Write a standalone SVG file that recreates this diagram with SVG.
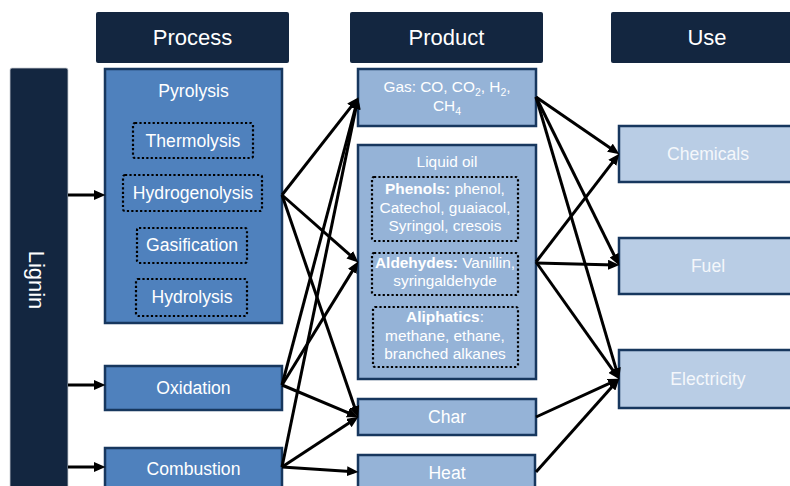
<svg xmlns="http://www.w3.org/2000/svg" width="790" height="486" viewBox="0 0 790 486">
  <style>
    .hdr { fill: #132640; }
    .hdr-t { font-family: "Liberation Sans", Arial, sans-serif; font-size: 22px; fill: #ffffff; text-anchor: middle; }
    .proc { fill: #4f81bd; stroke: #17375e; stroke-width: 2.5; }
    .prod { fill: #95b3d7; stroke: #17375e; stroke-width: 2.5; }
    .use { fill: #b9cde5; stroke: #17375e; stroke-width: 2.5; }
    .dot { fill: none; stroke: #000000; stroke-width: 2.2; stroke-dasharray: 2.2 2.2; }
    .t18 { font-family: "Liberation Sans", Arial, sans-serif; font-size: 17.6px; fill: #ffffff; text-anchor: middle; }
    .t15 { font-family: "Liberation Sans", Arial, sans-serif; font-size: 15.4px; fill: #ffffff; text-anchor: middle; }
    .use-t { font-family: "Liberation Sans", Arial, sans-serif; font-size: 17.6px; fill: #f4f7fb; text-anchor: middle; }
    .b { font-weight: bold; }
    .conn line { stroke: #000000; stroke-width: 3; marker-end: url(#arrow); }
  </style>
  <defs>
    <marker id="arrow" markerUnits="userSpaceOnUse" markerWidth="12" markerHeight="10" refX="7" refY="5" orient="auto">
      <path d="M0,0 L11.5,5 L0,10 z" fill="#000000"/>
    </marker>
  </defs>

  <!-- column headers -->
  <g id="hdr-process">
    <rect class="hdr" x="96" y="12" width="193" height="51" rx="2"/>
    <text class="hdr-t" x="192.5" y="45">Process</text>
  </g>
  <g id="hdr-product">
    <rect class="hdr" x="350" y="12" width="193" height="51" rx="2"/>
    <text class="hdr-t" x="446.5" y="45">Product</text>
  </g>
  <g id="hdr-use">
    <rect class="hdr" x="611" y="12" width="192" height="51" rx="2"/>
    <text class="hdr-t" x="707" y="45">Use</text>
  </g>

  <!-- feedstock bar -->
  <g id="lignin">
    <rect x="10" y="68" width="58" height="430" rx="2" fill="#132640" stroke="#c8ccd2" stroke-width="0.8"/>
    <text class="hdr-t" transform="translate(29,280) rotate(90)">Lignin</text>
  </g>

  <!-- process column -->
  <g id="pyrolysis">
    <rect class="proc" x="105" y="69" width="177" height="254"/>
    <text class="t18" x="193.5" y="97">Pyrolysis</text>
  </g>
  <g id="thermolysis">
    <rect class="dot" x="133" y="123" width="120" height="35" rx="2"/>
    <text class="t18" x="193" y="147">Thermolysis</text>
  </g>
  <g id="hydrogenolysis">
    <rect class="dot" x="123" y="175" width="139" height="36" rx="2"/>
    <text class="t18" x="193" y="199">Hydrogenolysis</text>
  </g>
  <g id="gasification">
    <rect class="dot" x="137" y="228" width="110" height="35" rx="2"/>
    <text class="t18" x="192" y="251">Gasification</text>
  </g>
  <g id="hydrolysis">
    <rect class="dot" x="136" y="279" width="111" height="37" rx="2"/>
    <text class="t18" x="192" y="303">Hydrolysis</text>
  </g>
  <g id="oxidation">
    <rect class="proc" x="105" y="366" width="177" height="44"/>
    <text class="t18" x="193.5" y="394">Oxidation</text>
  </g>
  <g id="combustion">
    <rect class="proc" x="105" y="448" width="177" height="50"/>
    <text class="t18" x="193.5" y="475">Combustion</text>
  </g>

  <!-- product column -->
  <g id="gas">
    <rect class="prod" x="358" y="69" width="178" height="57"/>
    <text class="t15" x="447" y="92">Gas: CO, CO<tspan font-size="10.5" dy="4">2</tspan><tspan dy="-4">, H</tspan><tspan font-size="10.5" dy="4">2</tspan><tspan dy="-4">,</tspan></text>
    <text class="t15" x="447" y="111">CH<tspan font-size="10.5" dy="4">4</tspan></text>
  </g>
  <g id="liquid-oil">
    <rect class="prod" x="358" y="145" width="178" height="234"/>
    <text class="t15" x="447" y="167">Liquid oil</text>
  </g>
  <g id="phenols">
    <rect class="dot" x="372" y="177" width="146" height="64" rx="2"/>
    <text class="t15" x="445" y="194"><tspan class="b">Phenols:</tspan> phenol,</text>
    <text class="t15" x="445" y="212.5">Catechol, guaiacol,</text>
    <text class="t15" x="445" y="231">Syringol, cresois</text>
  </g>
  <g id="aldehydes">
    <rect class="dot" x="372" y="253" width="146" height="42" rx="2"/>
    <text class="t15" x="445" y="267.5"><tspan class="b">Aldehydes:</tspan> Vanillin,</text>
    <text class="t15" x="445" y="285.5">syringaldehyde</text>
  </g>
  <g id="aliphatics">
    <rect class="dot" x="373" y="307" width="145" height="60" rx="2"/>
    <text class="t15" x="445" y="322"><tspan class="b">Aliphatics</tspan>:</text>
    <text class="t15" x="445" y="341">methane,  ethane,</text>
    <text class="t15" x="445" y="359">branched alkanes</text>
  </g>
  <g id="char">
    <rect class="prod" x="358" y="399" width="178" height="36"/>
    <text class="t18" x="447" y="422.5">Char</text>
  </g>
  <g id="heat">
    <rect class="prod" x="358" y="455" width="177" height="43"/>
    <text class="t18" x="447" y="479">Heat</text>
  </g>

  <!-- use column -->
  <g id="chemicals">
    <rect class="use" x="619" y="126" width="180" height="56"/>
    <text class="use-t" x="708" y="160">Chemicals</text>
  </g>
  <g id="fuel">
    <rect class="use" x="619" y="238" width="180" height="56"/>
    <text class="use-t" x="708" y="272">Fuel</text>
  </g>
  <g id="electricity">
    <rect class="use" x="619" y="350" width="180" height="58"/>
    <text class="use-t" x="708" y="385">Electricity</text>
  </g>

  <!-- connectors -->
  <g id="connectors" class="conn">
    <line x1="68" y1="195" x2="101" y2="195"/>
    <line x1="68" y1="385" x2="101" y2="385"/>
    <line x1="68" y1="467" x2="101" y2="467"/>

    <line x1="282" y1="195" x2="355.5" y2="101.1"/>
    <line x1="282" y1="195" x2="355" y2="259.4"/>
    <line x1="282" y1="195" x2="356.7" y2="413.2"/>
    <line x1="282" y1="385" x2="357" y2="101.9"/>
    <line x1="282" y1="385" x2="355.9" y2="265.4"/>
    <line x1="282" y1="385" x2="354.3" y2="415.4"/>
    <line x1="282" y1="467" x2="357.2" y2="101.9"/>
    <line x1="282" y1="467" x2="354.7" y2="419.2"/>
    <line x1="282" y1="467" x2="354" y2="471.7"/>

    <line x1="536" y1="97" x2="615.7" y2="151.7"/>
    <line x1="536" y1="97" x2="617.2" y2="261.4"/>
    <line x1="536" y1="97" x2="617.9" y2="375.2"/>
    <line x1="536" y1="262" x2="616.6" y2="157.2"/>
    <line x1="536" y1="263" x2="615" y2="264.9"/>
    <line x1="536" y1="262" x2="616.7" y2="375.7"/>
    <line x1="536" y1="417" x2="615.4" y2="380.7"/>
    <line x1="536" y1="472" x2="616.3" y2="382"/>
  </g>
</svg>
